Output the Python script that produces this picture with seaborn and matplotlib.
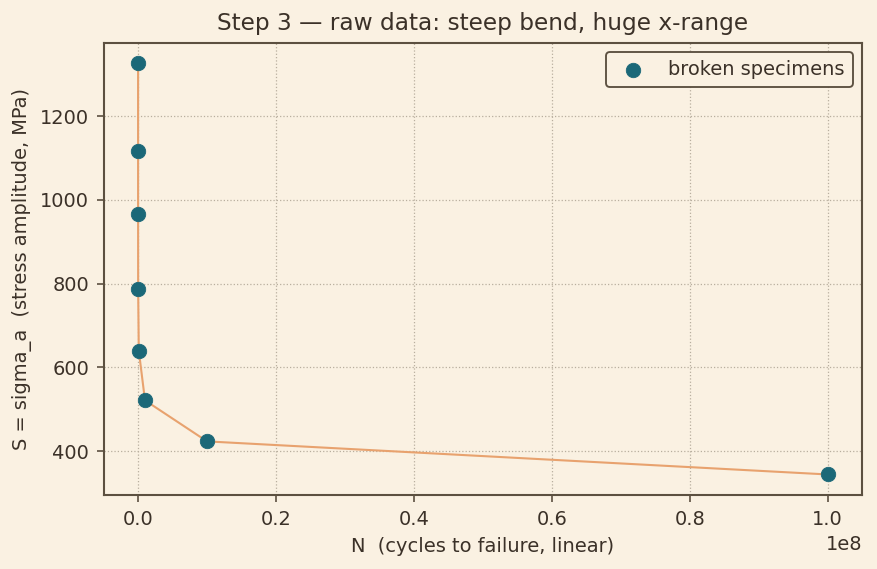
import matplotlib
matplotlib.use("Agg")
import matplotlib.pyplot as plt
import seaborn as sns
import pandas as pd

cycles = [1e1, 1e2, 1e3, 1e4, 1e5, 1e6, 1e7, 1e8]
stress = [1326, 1117, 966, 786, 640, 521, 423, 344]

BG = "#FAF1E2"
INK = "#3B3128"
EDGE = "#5C5040"
TEAL = "#1B6878"
ORANGE = "#E8A26E"

sns.set_theme(style="ticks")
plt.rcParams.update({
    "figure.facecolor": BG,
    "axes.facecolor": BG,
    "axes.edgecolor": EDGE,
    "axes.labelcolor": INK,
    "text.color": INK,
    "xtick.color": EDGE,
    "ytick.color": EDGE,
    "xtick.labelcolor": INK,
    "ytick.labelcolor": INK,
    "font.family": ["DejaVu Sans"],
})

df = pd.DataFrame({"N": cycles, "S": stress})

fig, ax = plt.subplots(figsize=(8.78 / 1.5, 5.69 / 1.5), dpi=150)
sns.lineplot(data=df, x="N", y="S", ax=ax, color=ORANGE, linewidth=1.0, zorder=2)
sns.scatterplot(data=df, x="N", y="S", ax=ax, color=TEAL, s=48, edgecolor=TEAL,
                linewidth=0.4, zorder=3, label="broken specimens")

ax.grid(True, linestyle=":", color="#B8AE9E", linewidth=0.6)
for s in ax.spines.values():
    s.set_color(EDGE)
    s.set_linewidth(1.0)
ax.tick_params(labelsize=9.3, length=3.5, width=0.8)
ax.xaxis.get_offset_text().set_fontsize(9.3)
ax.set_title("Step 3 \u2014 raw data: steep bend, huge x-range", fontsize=11.2, color=INK)
ax.set_xlabel("N  (cycles to failure, linear)", fontsize=9.3)
ax.set_ylabel("S = sigma_a  (stress amplitude, MPa)", fontsize=9.3)
leg = ax.legend(loc="upper right", fontsize=9.3, frameon=True, fancybox=True,
                markerscale=1.0)
leg.get_frame().set_facecolor(BG)
leg.get_frame().set_edgecolor(EDGE)
leg.get_frame().set_linewidth(0.9)
leg.get_frame().set_alpha(1)

fig.subplots_adjust(left=0.118, right=0.982, top=0.925, bottom=0.13)
fig.savefig("out.png", dpi=150, facecolor=BG)
